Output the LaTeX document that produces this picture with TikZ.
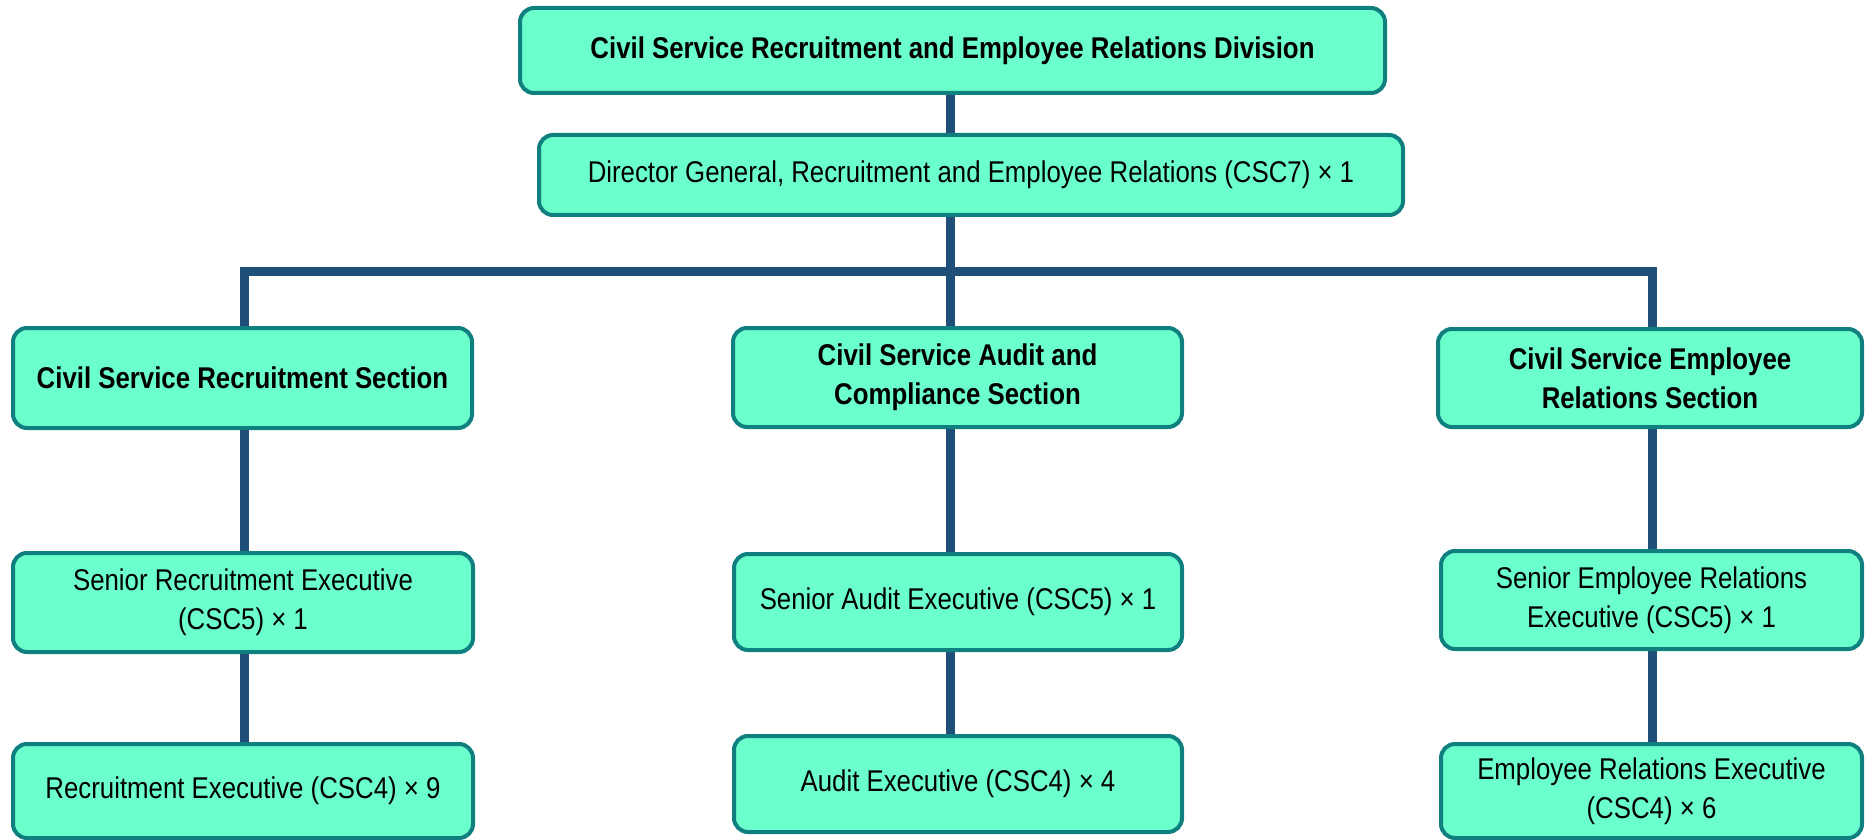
\documentclass[tikz,border=0pt]{standalone}
\usepackage{fontspec}
\setmainfont{Liberation Sans}[FakeStretch=0.86]
\usetikzlibrary{backgrounds}
\definecolor{boxfill}{HTML}{6BFFCC}
\definecolor{boxline}{HTML}{0F7F7F}
\definecolor{conn}{HTML}{1F4E79}
\tikzset{
  orgbox/.style={draw=boxline, fill=boxfill, line width=2pt, rounded corners=7pt,
    align=center, inner sep=0pt, font=\fontsize{15pt}{19.5pt}\selectfont},
  headbox/.style={orgbox, font=\fontsize{15pt}{19.5pt}\selectfont\bfseries},
  link/.style={draw=conn, line width=4.5pt, line join=miter}
}
\begin{document}
\begin{tikzpicture}[x=0.5pt,y=-0.5pt]
\useasboundingbox (0,0) rectangle (1865,840);
\node[headbox, minimum width=432.5pt, minimum height=42.5pt] (top) at (952.5,50.5) {Civil Service Recruitment and Employee Relations Division};
\node[orgbox, minimum width=432pt, minimum height=40pt] (dir) at (971,175) {Director General, Recruitment and Employee Relations (CSC7) × 1};
\node[headbox, minimum width=229.5pt, minimum height=50pt] (s1) at (242.5,378) {Civil Service Recruitment Section};
\node[headbox, minimum width=224.5pt, minimum height=49.5pt] (s2) at (957.5,377.5) {Civil Service Audit and\\Compliance Section};
\node[headbox, minimum width=212pt, minimum height=49pt] (s3) at (1650,378) {Civil Service Employee\\Relations Section};
\node[orgbox, minimum width=230pt, minimum height=49.5pt] (r1) at (243,602.5) {Senior Recruitment Executive\\(CSC5) × 1};
\node[orgbox, minimum width=224pt, minimum height=48pt] (r2) at (958,602) {Senior Audit Executive (CSC5) × 1};
\node[orgbox, minimum width=210.5pt, minimum height=49pt] (r3) at (1651.5,600) {Senior Employee Relations\\Executive (CSC5) × 1};
\node[orgbox, minimum width=230pt, minimum height=47pt] (b1) at (243,791) {Recruitment Executive (CSC4) × 9};
\node[orgbox, minimum width=224pt, minimum height=48pt] (b2) at (958,784) {Audit Executive (CSC4) × 4};
\node[orgbox, minimum width=210.5pt, minimum height=47pt] (b3) at (1651.5,791) {Employee Relations Executive\\(CSC4) × 6};
\coordinate (c1) at (244,271);
\coordinate (c2) at (950,271);
\coordinate (c3) at (1652,271);
\begin{scope}[on background layer]
\draw[link] (top.south -| c2) -- (dir.north -| c2);
\draw[link] (dir.south -| c2) -- (c2);
\draw[link] (s1.north -| c1) -- (c1) -- (c3) -- (s3.north -| c3);
\draw[link] (c2) -- (s2.north -| c2);
\draw[link] (s1.south -| c1) -- (r1.north -| c1);
\draw[link] (r1.south -| c1) -- (b1.north -| c1);
\draw[link] (s2.south -| c2) -- (r2.north -| c2);
\draw[link] (r2.south -| c2) -- (b2.north -| c2);
\draw[link] (s3.south -| c3) -- (r3.north -| c3);
\draw[link] (r3.south -| c3) -- (b3.north -| c3);
\end{scope}
\end{tikzpicture}
\end{document}
